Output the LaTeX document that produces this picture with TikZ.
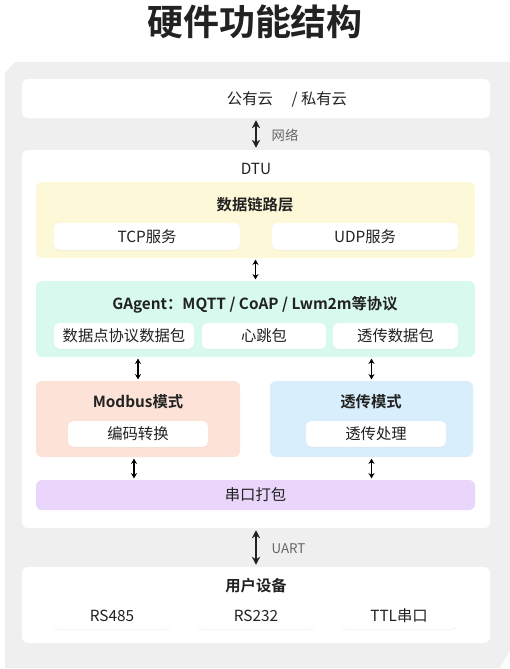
\documentclass[tikz,border=0pt]{standalone}
\usepackage{fontspec}
\setmainfont{Noto Sans CJK SC}[BoldFont={Noto Sans CJK SC Bold}]
\usetikzlibrary{arrows.meta,fit,shadows}
\definecolor{bg}{HTML}{EFEFEF}
\definecolor{txt}{HTML}{222222}
\definecolor{lbl}{HTML}{666666}
\definecolor{yel}{HTML}{FDF8D8}
\definecolor{grn}{HTML}{D8FAEE}
\definecolor{sal}{HTML}{FDE2D8}
\definecolor{blu}{HTML}{D9EEFD}
\definecolor{pur}{HTML}{EAD6FB}
\begin{document}
\begin{tikzpicture}[x=0.75pt,y=-0.75pt,
  every node/.style={font=\fontsize{11.5}{14}\selectfont, text=txt},
  panel/.style={inner sep=0pt, rounded corners=4.5pt, fill=#1},
  sub/.style={inner sep=0pt, rounded corners=4pt, fill=white,
    drop shadow={opacity=0.08, shadow xshift=0pt, shadow yshift=-0.8pt}},
  ttl/.style={font=\bfseries\fontsize{11.5}{14}\selectfont},
  side/.style={font=\fontsize{10}{12}\selectfont, text=lbl, anchor=west},
  big/.style={{Stealth[length=6pt,width=6.2pt]}-{Stealth[length=6pt,width=6.2pt]}, line width=1.9pt, draw=txt, shorten <=1.5pt, shorten >=1.5pt},
  small/.style={{Stealth[length=4pt,width=4.5pt]}-{Stealth[length=4pt,width=4.5pt]}, line width=1.1pt, draw=black, shorten <=1pt, shorten >=1pt},
]
\useasboundingbox (0,0) rectangle (510,669);
% outer background
\fill[bg] (5,73) -- (15,62) -- (510,62) -- (510,650) -- (500,668) -- (5,668) -- cycle;

\node[font=\bfseries\fontsize{27}{32}\selectfont, text=txt] (title) at (255,22) {硬件功能结构};

% cloud
\node[panel=white, fit={(22,79) (490,118)}] (cloud) {};
\node (cloudt) at (287,99) {公有云\hspace{14pt}/ 私有云};

% DTU
\node[panel=white, fit={(22,150) (490,528)}] (dtu) {};
\node (dtut) at (256,169) {DTU};

\node[panel=yel, fit={(36,182) (475,258)}] (link) {};
\node[ttl] (linkt) at (255,205) {数据链路层};
\node[sub, fit={(54,223) (240,250)}, label={center:TCP服务}] (tcp) {};
\node[sub, fit={(272,223) (458,250)}, label={center:UDP服务}] (udp) {};

\node[panel=grn, fit={(36,281) (475,357)}] (gagent) {};
\node[ttl] (gagentt) at (255,305) {GAgent：MQTT / CoAP / Lwm2m等协议};
\node[sub, fit={(54,323) (194,349)}, label={center:数据点协议数据包}] (dp) {};
\node[sub, fit={(202,323) (326,349)}, label={center:心跳包}] (hb) {};
\node[sub, fit={(333,323) (458,349)}, label={center:透传数据包}] (tp) {};

\node[panel=sal, fit={(36,381) (240,457)}] (modbus) {};
\node[ttl] (modbust) at (138,402) {Modbus模式};
\node[sub, fit={(68,421) (208,447)}, label={center:编码转换}] (enc) {};

\node[panel=blu, fit={(270,381) (473,457)}] (trans) {};
\node[ttl] (transt) at (371,402) {透传模式};
\node[sub, fit={(306,421) (446,447)}, label={center:透传处理}] (proc) {};

\node[panel=pur, fit={(36,480) (475,510)}, label={center:串口打包}] (serial) {};

% user devices
\node[panel=white, fit={(22,567) (490,643)}] (user) {};
\node[ttl] (usert) at (256,586) {用户设备};
\node[sub, fit={(54,603) (170,629)}, label={center:RS485}] (rs485) {};
\node[sub, fit={(198,603) (314,629)}, label={center:RS232}] (rs232) {};
\node[sub, fit={(341,603) (457,629)}, label={center:TTL串口}] (ttl) {};

% connectors
\draw[big] (cloud.south) -- (dtu.north);
\node[side] (net) at (267,135) {网络};
\draw[small] (link.south) -- (gagent.north);
\draw[small] (gagent.south -| modbus.north) -- (modbus.north);
\draw[small] (gagent.south -| trans.north) -- (trans.north);
\draw[small] ([xshift=-3pt]modbus.south) -- ([xshift=-3pt]serial.north -| modbus.south);
\draw[small] (trans.south) -- (serial.north -| trans.south);
\draw[big] (dtu.south) -- (user.north);
\node[side] (uart) at (267,549) {UART};
\end{tikzpicture}
\end{document}
